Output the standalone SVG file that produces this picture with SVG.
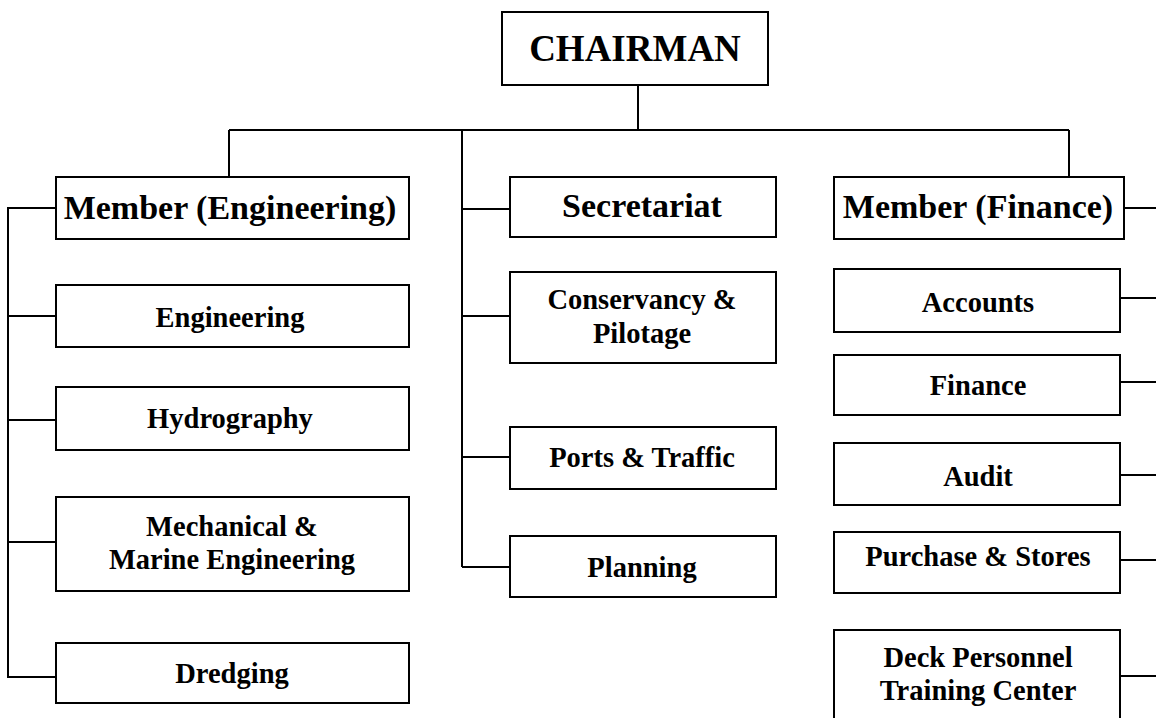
<svg xmlns="http://www.w3.org/2000/svg" width="1156" height="718" viewBox="0 0 1156 718">
<style>
.box{fill:#fff;stroke:#000;stroke-width:2}
.ln{fill:none;stroke:#000;stroke-width:2}
text{font-family:"Liberation Serif","Times New Roman",serif;font-weight:bold;fill:#000;text-anchor:middle}
.t1{font-size:37px}
.t2{font-size:34px}
.t3{font-size:28.5px}
</style>
<rect width="1156" height="718" fill="#fff"/>
<g id="connectors" class="ln">
<path d="M638,85 V130 M229,130 H1069 M229,130 V177 M462,130 V567 M1069,130 V177"/>
<path d="M56,208 H8 V677 H56 M8,316 H56 M8,420 H56 M8,542 H56"/>
<path d="M462,209 H510 M462,316 H510 M462,457 H510 M462,567 H510"/>
<path d="M1124,208 H1156 M1121,298 H1156 M1121,382 H1156 M1121,475 H1156 M1121,560 H1156 M1121,676 H1156"/>
</g>
<g id="chairman"><rect class="box" x="502" y="12" width="266" height="73"/><text class="t1" x="635" y="61">CHAIRMAN</text></g>
<g id="member-eng"><rect class="box" x="56" y="177" width="353" height="62"/><text class="t2" x="230" y="219">Member (Engineering)</text></g>
<g id="engineering"><rect class="box" x="56" y="285" width="353" height="62"/><text class="t3" x="230" y="327">Engineering</text></g>
<g id="hydrography"><rect class="box" x="56" y="387" width="353" height="63"/><text class="t3" x="230" y="428">Hydrography</text></g>
<g id="mechanical"><rect class="box" x="56" y="497" width="353" height="94"/><text class="t3" x="232" y="536">Mechanical &amp;</text><text class="t3" x="232" y="569">Marine Engineering</text></g>
<g id="dredging"><rect class="box" x="56" y="643" width="353" height="60"/><text class="t3" x="232" y="683">Dredging</text></g>
<g id="secretariat"><rect class="box" x="510" y="177" width="266" height="60"/><text class="t2" x="642" y="217">Secretariat</text></g>
<g id="conservancy"><rect class="box" x="510" y="272" width="266" height="91"/><text class="t3" x="642" y="309">Conservancy &amp;</text><text class="t3" x="642" y="343">Pilotage</text></g>
<g id="ports"><rect class="box" x="510" y="427" width="266" height="62"/><text class="t3" x="642" y="467">Ports &amp; Traffic</text></g>
<g id="planning"><rect class="box" x="510" y="536" width="266" height="61"/><text class="t3" x="642" y="577">Planning</text></g>
<g id="member-fin"><rect class="box" x="834" y="177" width="290" height="62"/><text class="t2" x="978" y="218">Member (Finance)</text></g>
<g id="accounts"><rect class="box" x="834" y="269" width="286" height="63"/><text class="t3" x="978" y="312">Accounts</text></g>
<g id="finance"><rect class="box" x="834" y="355" width="286" height="60"/><text class="t3" x="978" y="395">Finance</text></g>
<g id="audit"><rect class="box" x="834" y="443" width="286" height="62"/><text class="t3" x="978" y="486">Audit</text></g>
<g id="purchase"><rect class="box" x="834" y="532" width="286" height="61"/><text class="t3" x="978" y="566">Purchase &amp; Stores</text></g>
<g id="deck"><rect class="box" x="834" y="630" width="286" height="100"/><text class="t3" x="978" y="667">Deck Personnel</text><text class="t3" x="978" y="700">Training Center</text></g>
</svg>
